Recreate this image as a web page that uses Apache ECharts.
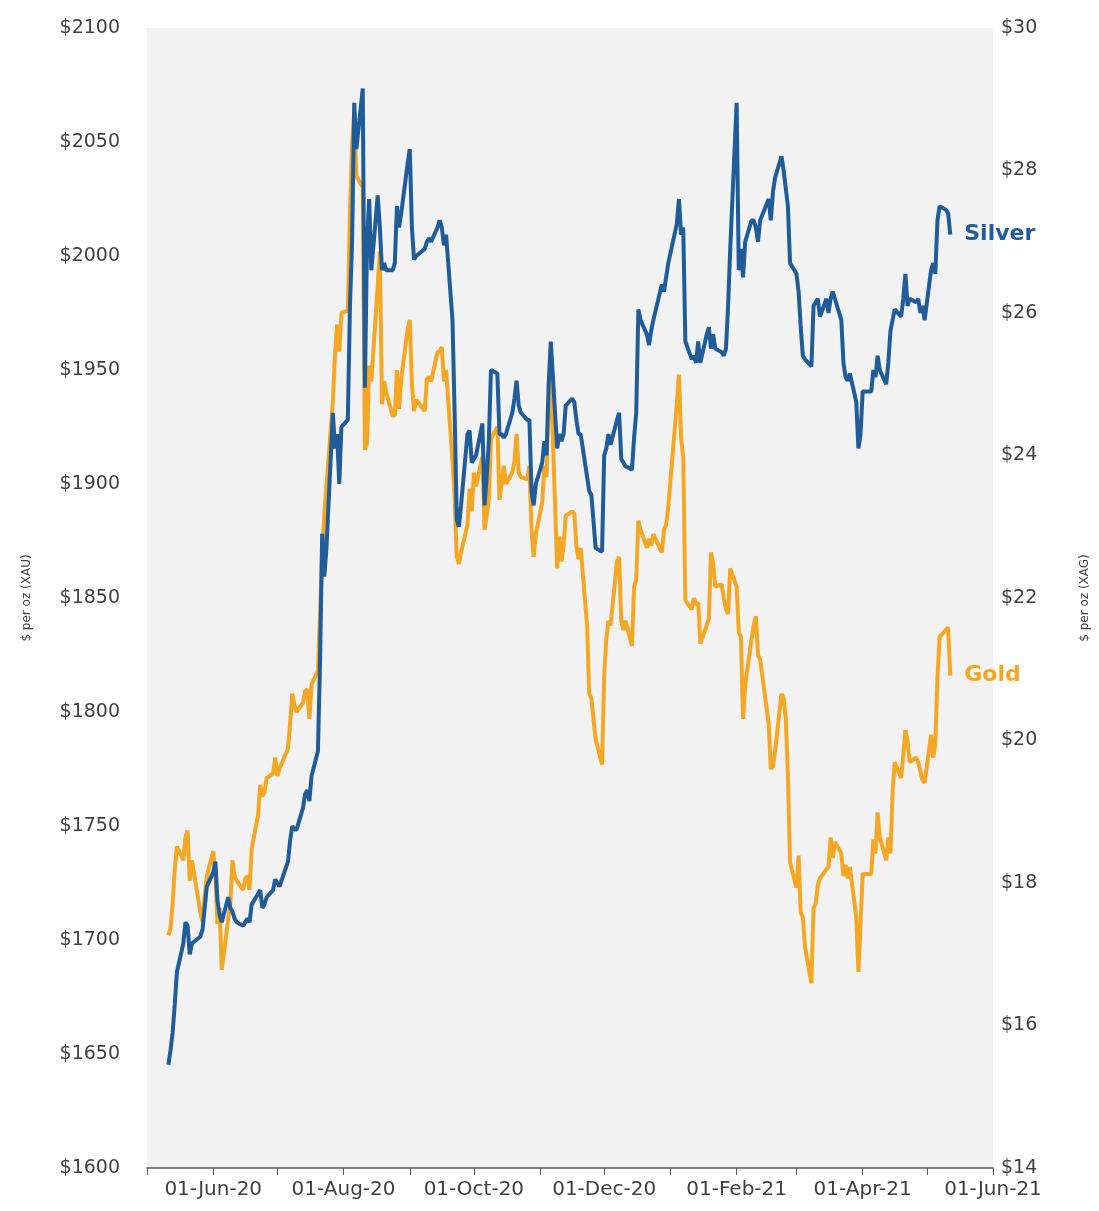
<!DOCTYPE html>
<html><head><meta charset="utf-8">
<script src="https://cdn.jsdelivr.net/npm/echarts@6/dist/echarts.min.js"></script>
<style>html,body{margin:0;padding:0;background:#fff}#c{width:1099px;height:1211px}</style>
</head><body><div id="c"></div><script>
const dates = ['2020-05-11','2020-05-12','2020-05-13','2020-05-14','2020-05-15','2020-05-18','2020-05-19','2020-05-20','2020-05-21','2020-05-22','2020-05-26','2020-05-27','2020-05-28','2020-05-29',
'2020-06-01','2020-06-02','2020-06-03','2020-06-04','2020-06-05','2020-06-08','2020-06-09','2020-06-10','2020-06-11','2020-06-12','2020-06-15','2020-06-16','2020-06-17','2020-06-18','2020-06-19','2020-06-22','2020-06-23','2020-06-24','2020-06-25','2020-06-26','2020-06-29','2020-06-30',
'2020-07-01','2020-07-02','2020-07-06','2020-07-07','2020-07-08','2020-07-09','2020-07-10','2020-07-13','2020-07-14','2020-07-15','2020-07-16','2020-07-17','2020-07-20','2020-07-21','2020-07-22','2020-07-23','2020-07-24','2020-07-27','2020-07-28','2020-07-29','2020-07-30','2020-07-31',
'2020-08-03','2020-08-04','2020-08-05','2020-08-06','2020-08-07','2020-08-10','2020-08-11','2020-08-12','2020-08-13','2020-08-14','2020-08-17','2020-08-18','2020-08-19','2020-08-20','2020-08-21','2020-08-24','2020-08-25','2020-08-26','2020-08-27','2020-08-28','2020-08-31',
'2020-09-01','2020-09-02','2020-09-03','2020-09-04','2020-09-08','2020-09-09','2020-09-10','2020-09-11','2020-09-14','2020-09-15','2020-09-16','2020-09-17','2020-09-18','2020-09-21','2020-09-22','2020-09-23','2020-09-24','2020-09-25','2020-09-28','2020-09-29','2020-09-30',
'2020-10-01','2020-10-02','2020-10-05','2020-10-06','2020-10-07','2020-10-08','2020-10-09','2020-10-12','2020-10-13','2020-10-14','2020-10-15','2020-10-16','2020-10-19','2020-10-20','2020-10-21','2020-10-22','2020-10-23','2020-10-26','2020-10-27','2020-10-28','2020-10-29','2020-10-30',
'2020-11-02','2020-11-03','2020-11-04','2020-11-05','2020-11-06','2020-11-09','2020-11-10','2020-11-11','2020-11-12','2020-11-13','2020-11-16','2020-11-17','2020-11-18','2020-11-19','2020-11-20','2020-11-23','2020-11-24','2020-11-25','2020-11-27','2020-11-30',
'2020-12-01','2020-12-02','2020-12-03','2020-12-04','2020-12-07','2020-12-08','2020-12-09','2020-12-10','2020-12-11','2020-12-14','2020-12-15','2020-12-16','2020-12-17','2020-12-18','2020-12-21','2020-12-22','2020-12-23','2020-12-24','2020-12-28','2020-12-29','2020-12-30','2020-12-31',
'2021-01-04','2021-01-05','2021-01-06','2021-01-07','2021-01-08','2021-01-11','2021-01-12','2021-01-13','2021-01-14','2021-01-15','2021-01-18','2021-01-19','2021-01-20','2021-01-21','2021-01-22','2021-01-25','2021-01-26','2021-01-27','2021-01-28','2021-01-29',
'2021-02-01','2021-02-02','2021-02-03','2021-02-04','2021-02-05','2021-02-08','2021-02-09','2021-02-10','2021-02-11','2021-02-12','2021-02-16','2021-02-17','2021-02-18','2021-02-19','2021-02-22','2021-02-23','2021-02-24','2021-02-25','2021-02-26',
'2021-03-01','2021-03-02','2021-03-03','2021-03-04','2021-03-05','2021-03-08','2021-03-09','2021-03-10','2021-03-11','2021-03-12','2021-03-15','2021-03-16','2021-03-17','2021-03-18','2021-03-19','2021-03-22','2021-03-23','2021-03-24','2021-03-25','2021-03-26','2021-03-29','2021-03-30','2021-03-31',
'2021-04-01','2021-04-05','2021-04-06','2021-04-07','2021-04-08','2021-04-09','2021-04-12','2021-04-13','2021-04-14','2021-04-15','2021-04-16','2021-04-19','2021-04-20','2021-04-21','2021-04-22','2021-04-23','2021-04-26','2021-04-27','2021-04-28','2021-04-29','2021-04-30',
'2021-05-03','2021-05-04','2021-05-05','2021-05-06','2021-05-07','2021-05-10','2021-05-11','2021-05-12'];

const gold = [1702,1705,1716,1731,1741,1735,1745,1748,1726,1735,1712,1708,1719,1728,
1739,1728,1707,1714,1687,1709,1716,1735,1728,1726,1722,1727,1728,1722,1740,1755,1768,1763,1765,1771,1773,1780,
1772,1775,1784,1795,1808,1803,1800,1804,1809,1810,1797,1812,1818,1843,1869,1887,1899,1936,1957,1970,1958,1975,
1976,2019,2049,2063,2035,2030,1915,1918,1952,1945,1987,2002,1935,1945,1940,1930,1930,1950,1933,1946,1968,
1972,1944,1932,1937,1932,1946,1947,1945,1958,1958,1960,1945,1950,1910,1895,1868,1865,1870,1882,1898,1888,
1905,1899,1912,1880,1886,1893,1920,1925,1893,1900,1908,1900,1905,1910,1922,1905,1903,1902,1908,1880,1868,1878,
1892,1908,1903,1935,1948,1863,1877,1866,1873,1886,1888,1887,1873,1867,1872,1838,1808,1806,1788,1777,
1816,1832,1840,1838,1866,1868,1840,1836,1840,1829,1855,1858,1884,1880,1872,1876,1873,1878,1870,1880,1882,1890,
1935,1948,1920,1912,1849,1845,1850,1847,1848,1830,1838,1841,1870,1865,1855,1856,1850,1845,1843,1863,
1855,1835,1833,1797,1812,1832,1838,1842,1825,1823,1795,1775,1776,1783,1808,1806,1797,1772,1734,
1723,1737,1712,1710,1697,1681,1714,1716,1724,1727,1731,1732,1745,1736,1743,1738,1728,1733,1727,1732,1710,1686,1707,
1729,1729,1744,1738,1756,1745,1735,1745,1738,1765,1778,1771,1781,1792,1787,1778,1780,1778,1774,1770,1769,
1790,1780,1786,1815,1833,1836,1837,1816];

const silver = [15.45,15.65,15.9,16.3,16.75,17.15,17.45,17.4,17.0,17.15,17.25,17.35,17.65,17.95,
18.15,18.3,17.75,17.55,17.45,17.8,17.65,17.6,17.5,17.45,17.4,17.45,17.5,17.45,17.7,17.85,17.9,17.65,17.7,17.8,17.9,18.05,
18.0,17.95,18.3,18.6,18.8,18.75,18.75,19.05,19.25,19.3,19.15,19.5,19.85,21.1,22.9,22.3,22.7,24.6,24.1,24.3,23.6,24.4,
24.5,26.1,27.0,28.95,28.3,29.15,24.95,27.0,27.6,26.6,27.65,27.2,26.6,26.7,26.6,26.6,26.7,27.5,27.2,27.4,28.1,
28.3,27.2,26.75,26.8,26.9,27.0,27.05,27.0,27.2,27.3,27.2,26.95,27.1,25.9,24.6,23.1,23.0,23.3,24.3,24.35,23.9,
23.95,24.0,24.45,23.3,23.7,24.2,25.2,25.15,24.3,24.3,24.25,24.3,24.6,24.8,25.05,24.7,24.6,24.5,24.5,23.5,23.3,23.6,
23.9,24.2,24.0,25.0,25.6,24.1,24.3,24.2,24.3,24.7,24.8,24.75,24.5,24.3,24.3,23.7,23.5,23.45,22.7,22.65,
24.0,24.1,24.3,24.15,24.5,24.6,23.95,23.9,23.85,23.8,24.25,24.6,26.05,25.9,25.7,25.55,25.75,25.9,26.4,26.3,26.5,26.7,
27.25,27.6,27.1,27.2,25.6,25.35,25.4,25.3,25.6,25.3,25.7,25.8,25.5,25.7,25.5,25.45,25.4,25.5,26.1,26.9,
28.95,26.6,26.9,26.5,27.0,27.3,27.3,27.2,27.0,27.3,27.6,27.3,27.7,27.9,28.2,28.0,27.75,27.5,26.7,
26.55,26.3,25.8,25.4,25.35,25.25,26.1,26.15,26.2,25.95,26.2,26.0,26.2,26.3,26.2,25.9,25.3,25.1,25.05,25.15,24.75,24.1,24.3,
24.9,24.9,25.2,25.1,25.4,25.2,25.0,25.3,25.75,25.9,26.05,25.95,26.2,26.55,26.1,26.2,26.15,26.2,26.0,26.1,25.9,
26.6,26.7,26.55,27.3,27.5,27.45,27.4,27.1];

const monthNames = ['Jan','Feb','Mar','Apr','May','Jun','Jul','Aug','Sep','Oct','Nov','Dec'];
const labelMonths = [1,3,5,7,9,11];
const goldAxis = {min:1600, max:2100, interval:50, name:'$ per oz (XAU)'};
const silverAxis = {min:14, max:30, interval:2, name:'$ per oz (XAG)'};
const xRange = ['2020-05-01','2021-06-01'];

const goldColor = '#f5a623';
const silverColor = '#1f5c99';
const font = 'DejaVu Sans';
const DAY = 86400000;

const chart = echarts.init(document.getElementById('c'), null, {renderer:'canvas'});
chart.setOption({
  animation:false,
  backgroundColor:'#ffffff',
  grid:{left:147, right:102, top:28, bottom:43, show:true, backgroundColor:'#f2f2f2', borderWidth:0},
  xAxis:{
    type:'time', min:xRange[0], max:xRange[1], splitNumber:13, minInterval:28*DAY, maxInterval:31*DAY,
    axisLine:{show:true, lineStyle:{color:'#595959', width:1.5}},
    axisTick:{show:true, length:7, lineStyle:{color:'#595959', width:1}},
    splitLine:{show:false},
    axisLabel:{
      fontFamily:font, fontSize:20, color:'#404040', margin:12, hideOverlap:false,
      formatter:function(v){
        const d = new Date(v);
        if (labelMonths.indexOf(d.getMonth()) < 0) return '';
        return '01-' + monthNames[d.getMonth()] + '-' + String(d.getFullYear()).slice(2);
      }
    }
  },
  yAxis:[
    {type:'value', position:'left', min:goldAxis.min, max:goldAxis.max, interval:goldAxis.interval,
     name:goldAxis.name, nameLocation:'middle', nameGap:114, nameRotate:90,
     nameTextStyle:{fontFamily:font, fontSize:12, color:'#404040'},
     axisLine:{show:false}, axisTick:{show:false}, splitLine:{show:false},
     axisLabel:{fontFamily:font, fontSize:19, color:'#404040', margin:27, formatter:v=>'$'+v}},
    {type:'value', position:'right', min:silverAxis.min, max:silverAxis.max, interval:silverAxis.interval,
     name:silverAxis.name, nameLocation:'middle', nameGap:86, nameRotate:90,
     nameTextStyle:{fontFamily:font, fontSize:12, color:'#404040'},
     axisLine:{show:false}, axisTick:{show:false}, splitLine:{show:false},
     axisLabel:{fontFamily:font, fontSize:19, color:'#404040', margin:8, formatter:v=>'$'+v}}
  ],
  series:[
    {name:'Gold', type:'line', yAxisIndex:0, showSymbol:false, smooth:false, z:2,
     lineStyle:{color:goldColor, width:4}, itemStyle:{color:goldColor},
     endLabel:{show:true, formatter:'{a}', color:goldColor, fontWeight:'bold', fontFamily:font, fontSize:22, distance:14},
     data:dates.map((d,i)=>[d, gold[i]])},
    {name:'Silver', type:'line', yAxisIndex:1, showSymbol:false, smooth:false, z:3,
     lineStyle:{color:silverColor, width:4}, itemStyle:{color:silverColor},
     endLabel:{show:true, formatter:'{a}', color:silverColor, fontWeight:'bold', fontFamily:font, fontSize:22, distance:14},
     data:dates.map((d,i)=>[d, silver[i]])}
  ]
});
</script></body></html>
